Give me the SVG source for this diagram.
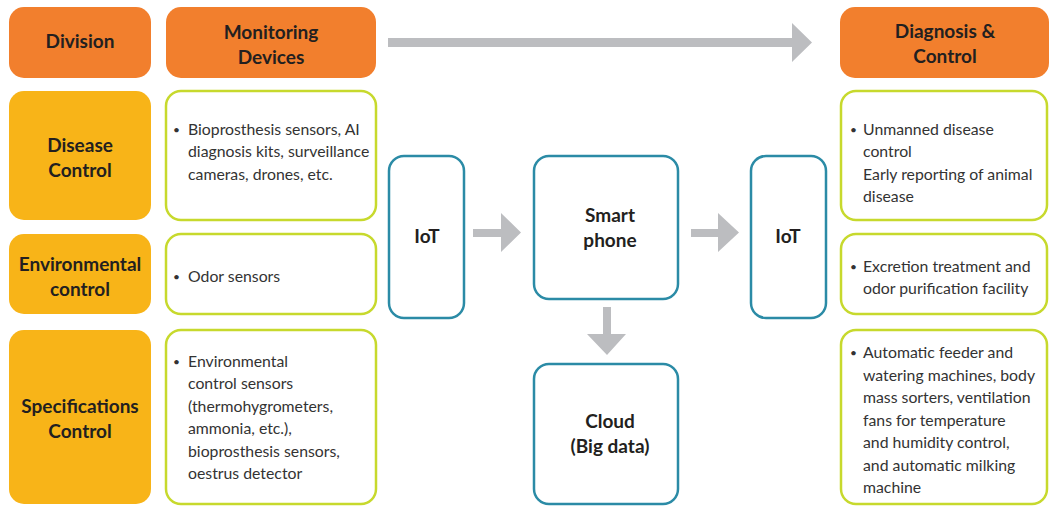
<svg xmlns="http://www.w3.org/2000/svg" width="1049" height="506" viewBox="0 0 1049 506">
<style>
.hdr{fill:#f27f2d}
.div{fill:#f8b418}
.txtbox{fill:#fff;stroke:#c7d92d;stroke-width:2.5}
.tech{fill:#fff;stroke:#2b8ba6;stroke-width:2.5}
.arr{fill:#bcbdc0}
text{font-family:Lato,"Open Sans",sans-serif;fill:#231f20}
.b{font-weight:bold;font-size:19px;text-anchor:middle}
.t{font-size:15.8px;fill:#333}
.bu{font-size:12px;fill:#333}
</style>
<g id="connectors">
<polygon class="arr" points="388,38 792,38 792,23 812,42.5 792,62 792,47 388,47"/>
<polygon class="arr" points="473,229 501,229 501,213 521,232.5 501,252 501,237 473,237"/>
<polygon class="arr" points="691,229 718,229 718,213 739,232.5 718,252 718,237 691,237"/>
<polygon class="arr" points="603,307 611,307 611,334 626,334 607,355 587,334 603,334"/>
</g>
<g id="division-header"><rect class="hdr" x="9" y="7" width="142" height="71" rx="15"/><text class="b" x="80" y="48">Division</text></g>
<g id="monitoring-header"><rect class="hdr" x="166" y="7" width="210" height="71" rx="15"/><text class="b" x="271" y="39">Monitoring</text><text class="b" x="271" y="64">Devices</text></g>
<g id="diagnosis-header"><rect class="hdr" x="840" y="7" width="209" height="71" rx="15"/><text class="b" x="945" y="38">Diagnosis &amp;</text><text class="b" x="945" y="63">Control</text></g>
<g id="disease-control"><rect class="div" x="9" y="91" width="142" height="129" rx="15"/><text class="b" x="80" y="152">Disease</text><text class="b" x="80" y="177">Control</text></g>
<g id="environmental-control"><rect class="div" x="9" y="234" width="142" height="80" rx="15"/><text class="b" x="80" y="271">Environmental</text><text class="b" x="80" y="296">control</text></g>
<g id="specifications-control"><rect class="div" x="9" y="330" width="142" height="174" rx="15"/><text class="b" x="80" y="413">Specifications</text><text class="b" x="80" y="438">Control</text></g>
<g id="disease-devices"><rect class="txtbox" x="166" y="91" width="210" height="129" rx="15"/><text class="bu" x="173" y="134">•</text><text class="t" x="188" y="135">Bioprosthesis sensors, AI</text><text class="t" x="188" y="157">diagnosis kits, surveillance</text><text class="t" x="188" y="180">cameras, drones, etc.</text></g>
<g id="environmental-devices"><rect class="txtbox" x="166" y="234" width="210" height="80" rx="15"/><text class="bu" x="173" y="281">•</text><text class="t" x="188" y="282">Odor sensors</text></g>
<g id="specifications-devices"><rect class="txtbox" x="166" y="330" width="210" height="174" rx="15"/><text class="bu" x="173" y="366">•</text><text class="t" x="188" y="367">Environmental</text><text class="t" x="188" y="389">control sensors</text><text class="t" x="188" y="412">(thermohygrometers,</text><text class="t" x="188" y="434">ammonia, etc.),</text><text class="t" x="188" y="457">bioprosthesis sensors,</text><text class="t" x="188" y="479">oestrus detector</text></g>
<g id="iot-left"><rect class="tech" x="389" y="156" width="75" height="162" rx="15"/><text class="b" x="427" y="243">IoT</text></g>
<g id="smartphone"><rect class="tech" x="534" y="156" width="144" height="143" rx="15"/><text class="b" x="610" y="222">Smart</text><text class="b" x="610" y="247">phone</text></g>
<g id="cloud"><rect class="tech" x="534" y="364" width="144" height="140" rx="15"/><text class="b" x="610" y="428">Cloud</text><text class="b" x="610" y="453">(Big data)</text></g>
<g id="iot-right"><rect class="tech" x="751" y="156" width="75" height="162" rx="15"/><text class="b" x="788" y="243">IoT</text></g>
<g id="disease-diagnosis"><rect class="txtbox" x="841" y="91" width="206" height="129" rx="15"/><text class="bu" x="850" y="134">•</text><text class="t" x="863" y="135">Unmanned disease</text><text class="t" x="863" y="157">control</text><text class="t" x="863" y="180">Early reporting of animal</text><text class="t" x="863" y="202">disease</text></g>
<g id="environmental-diagnosis"><rect class="txtbox" x="841" y="234" width="206" height="80" rx="15"/><text class="bu" x="850" y="271">•</text><text class="t" x="863" y="272">Excretion treatment and</text><text class="t" x="863" y="294">odor purification facility</text></g>
<g id="specifications-diagnosis"><rect class="txtbox" x="841" y="330" width="206" height="174" rx="15"/><text class="bu" x="850" y="357">•</text><text class="t" x="863" y="358">Automatic feeder and</text><text class="t" x="863" y="381">watering machines, body</text><text class="t" x="863" y="403">mass sorters, ventilation</text><text class="t" x="863" y="426">fans for temperature</text><text class="t" x="863" y="448">and humidity control,</text><text class="t" x="863" y="471">and automatic milking</text><text class="t" x="863" y="493">machine</text></g>
</svg>
